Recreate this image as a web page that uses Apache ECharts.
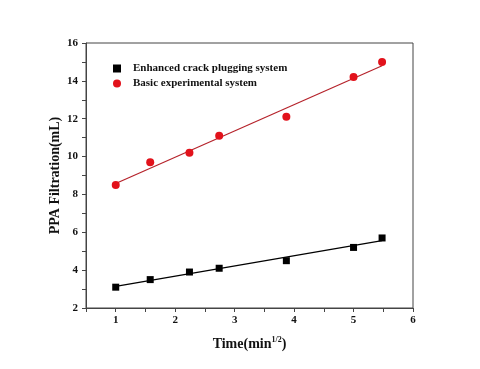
<!DOCTYPE html>
<html>
<head>
<meta charset="utf-8">
<script src="https://cdn.jsdelivr.net/npm/echarts@6/dist/echarts.min.js"></script>
<style>
  html, body { margin: 0; padding: 0; background: #fff; }
  #chart { width: 480px; height: 369px; }
</style>
</head>
<body>
<div id="chart"></div>
<script>
// data (x is sqrt of time in minutes)
const timeRoot = [1, 1.58, 2.24, 2.74, 3.87, 5, 5.48];
const enhanced = [3.1, 3.5, 3.9, 4.1, 4.5, 5.2, 5.7];
const basic = [8.5, 9.7, 10.2, 11.1, 12.1, 14.2, 15.0];
// fitted lines, end points
const enhancedFit = [[1, 3.14], [5.48, 5.56]];
const basicFit = [[1, 8.58], [5.48, 14.8]];

const seriesNames = ['Enhanced crack plugging system', 'Basic experimental system'];

const font = 'Liberation Serif';
const axisColor = '#444';

const pairs = ys => timeRoot.map((x, i) => [x, ys[i]]);

const chart = echarts.init(document.getElementById('chart'));

const option = {
  animation: false,
  textStyle: { fontFamily: font },
  grid: {
    left: 86,
    top: 43,
    right: 67,
    bottom: 61,
    show: true,
    borderColor: axisColor,
    borderWidth: 1,
    backgroundColor: 'transparent',
  },
  legend: {
    left: 108,
    top: 58,
    orient: 'vertical',
    itemGap: 4,
    itemWidth: 8,
    itemHeight: 8,
    data: [
      { name: seriesNames[0], icon: 'rect' },
      { name: seriesNames[1], icon: 'circle' },
    ],
    textStyle: { fontFamily: font, fontWeight: 'bold', fontSize: 11, color: '#111', padding: [0, 0, 0, 7] },
  },
  xAxis: {
    type: 'value',
    min: 0.5,
    max: 6,
    interval: 0.5,
    name: 'Time(min{sup|1/2})',
    nameLocation: 'middle',
    nameGap: 28,
    nameMoveOverlap: false,
    nameTextStyle: {
      fontFamily: font,
      fontWeight: 'bold',
      fontSize: 14,
      color: '#111',
      lineHeight: 16,
      rich: {
        sup: { fontFamily: font, fontWeight: 'bold', fontSize: 8, verticalAlign: 'top', lineHeight: 16, color: '#111' },
      },
    },
    axisLine: { lineStyle: { color: axisColor } },
    axisTick: { inside: false, length: 4, lineStyle: { color: axisColor } },
    splitLine: { show: false },
    axisLabel: {
      fontFamily: font,
      fontWeight: 'bold',
      fontSize: 11,
      color: '#111',
      margin: 7,
      formatter: v => (Math.abs(v - Math.round(v)) < 1e-6 ? String(Math.round(v)) : ''),
    },
  },
  yAxis: {
    type: 'value',
    min: 2,
    max: 16,
    interval: 1,
    name: 'PPA Filtration(mL)',
    nameLocation: 'middle',
    nameGap: 24,
    nameMoveOverlap: false,
    nameTextStyle: { fontFamily: font, fontWeight: 'bold', fontSize: 14, color: '#111' },
    axisLine: { show: true, lineStyle: { color: axisColor } },
    axisTick: { inside: false, length: 4, lineStyle: { color: axisColor } },
    splitLine: { show: false },
    axisLabel: {
      fontFamily: font,
      fontWeight: 'bold',
      fontSize: 11,
      color: '#111',
      margin: 8,
      formatter: v => (v % 2 === 0 ? String(v) : ''),
    },
  },
  series: [
    {
      name: seriesNames[0],
      type: 'scatter',
      symbol: 'rect',
      symbolSize: 7,
      itemStyle: { color: '#000', opacity: 1 },
      data: pairs(enhanced),
      z: 3,
    },
    {
      name: seriesNames[1],
      type: 'scatter',
      symbol: 'circle',
      symbolSize: 8,
      itemStyle: { color: '#e2121b', opacity: 1 },
      data: pairs(basic),
      z: 3,
    },
    {
      name: 'enhanced fit',
      type: 'line',
      data: enhancedFit,
      symbol: 'none',
      lineStyle: { color: '#000', width: 1.2 },
      z: 2,
    },
    {
      name: 'basic fit',
      type: 'line',
      data: basicFit,
      symbol: 'none',
      lineStyle: { color: '#b5222a', width: 1.2 },
      z: 2,
    },
  ],
};

chart.setOption(option);
</script>
</body>
</html>
